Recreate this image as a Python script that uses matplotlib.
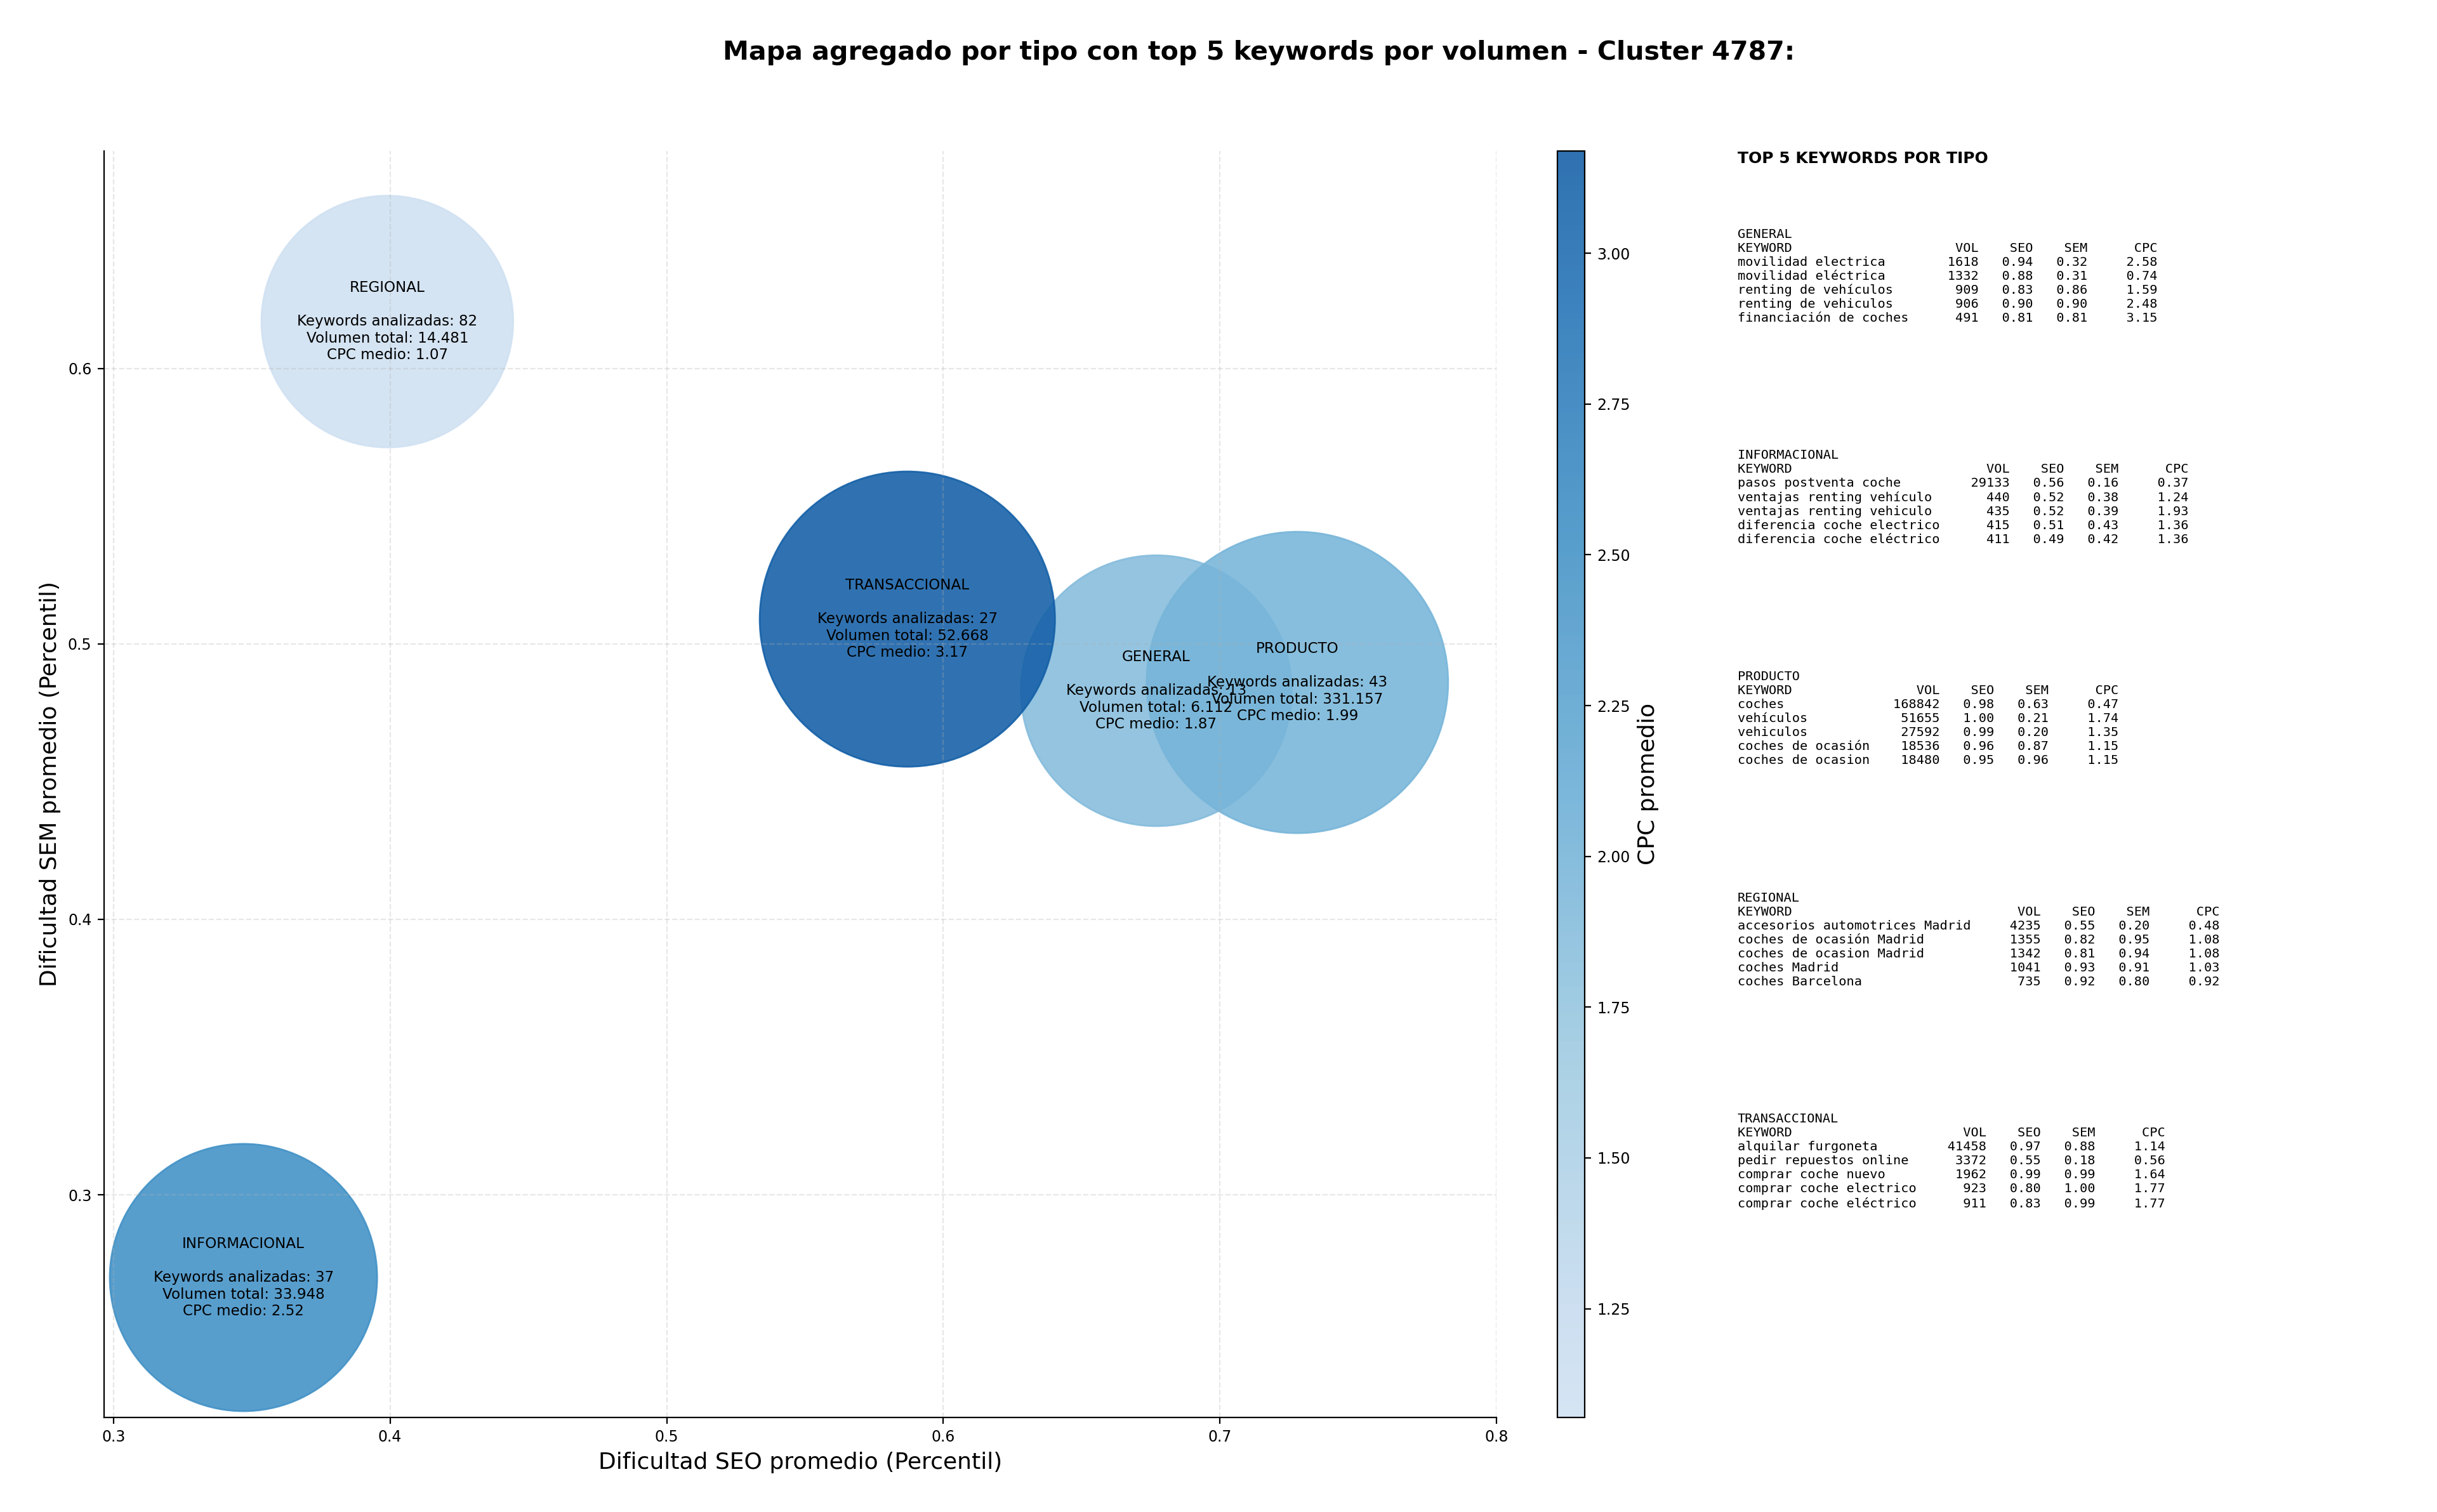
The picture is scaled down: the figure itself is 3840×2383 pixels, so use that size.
import numpy as np
import matplotlib
matplotlib.use("Agg")
import matplotlib.pyplot as plt
from matplotlib.colors import LinearSegmentedColormap

# datos agregados por tipo
tipos = ['GENERAL', 'INFORMACIONAL', 'PRODUCTO', 'REGIONAL', 'TRANSACCIONAL']
seo_medio = [0.677, 0.347, 0.728, 0.399, 0.587]
sem_medio = [0.483, 0.270, 0.486, 0.617, 0.509]
n_keywords = [13, 37, 43, 82, 27]
vol_total = [6112, 33948, 331157, 14481, 52668]
cpc_medio = [1.87, 2.52, 1.99, 1.07, 3.17]
# area de burbuja (puntos^2)
bubble_size = [23600, 22990, 29240, 20390, 28050]

# top 5 keywords por tipo: (keyword, vol, seo, sem, cpc)
top_general = [
    ('movilidad electrica', 1618, 0.94, 0.32, 2.58),
    ('movilidad eléctrica', 1332, 0.88, 0.31, 0.74),
    ('renting de vehículos', 909, 0.83, 0.86, 1.59),
    ('renting de vehiculos', 906, 0.90, 0.90, 2.48),
    ('financiación de coches', 491, 0.81, 0.81, 3.15),
]
top_informacional = [
    ('pasos postventa coche', 29133, 0.56, 0.16, 0.37),
    ('ventajas renting vehículo', 440, 0.52, 0.38, 1.24),
    ('ventajas renting vehiculo', 435, 0.52, 0.39, 1.93),
    ('diferencia coche electrico', 415, 0.51, 0.43, 1.36),
    ('diferencia coche eléctrico', 411, 0.49, 0.42, 1.36),
]
top_producto = [
    ('coches', 168842, 0.98, 0.63, 0.47),
    ('vehículos', 51655, 1.00, 0.21, 1.74),
    ('vehiculos', 27592, 0.99, 0.20, 1.35),
    ('coches de ocasión', 18536, 0.96, 0.87, 1.15),
    ('coches de ocasion', 18480, 0.95, 0.96, 1.15),
]
top_regional = [
    ('accesorios automotrices Madrid', 4235, 0.55, 0.20, 0.48),
    ('coches de ocasión Madrid', 1355, 0.82, 0.95, 1.08),
    ('coches de ocasion Madrid', 1342, 0.81, 0.94, 1.08),
    ('coches Madrid', 1041, 0.93, 0.91, 1.03),
    ('coches Barcelona', 735, 0.92, 0.80, 0.92),
]
top_transaccional = [
    ('alquilar furgoneta', 41458, 0.97, 0.88, 1.14),
    ('pedir repuestos online', 3372, 0.55, 0.18, 0.56),
    ('comprar coche nuevo', 1962, 0.99, 0.99, 1.64),
    ('comprar coche electrico', 923, 0.80, 1.00, 1.77),
    ('comprar coche eléctrico', 911, 0.83, 0.99, 1.77),
]
tops = [top_general, top_informacional, top_producto, top_regional, top_transaccional]


def fmt_vol(v):
    return f"{v:,}".replace(',', '.')


def tabla(nombre, filas):
    w = max(len(f[0]) for f in filas)
    lines = [nombre]
    lines.append('KEYWORD'.ljust(w) + 'VOL'.rjust(9) + 'SEO'.rjust(7) + 'SEM'.rjust(7) + 'CPC'.rjust(9))
    for kw, vol, seo, sem, cpc in filas:
        lines.append(kw.ljust(w) + f"{vol:>9}" + f"{seo:>7.2f}" + f"{sem:>7.2f}" + f"{cpc:>9.2f}")
    return '\n'.join(lines)


cmap = LinearSegmentedColormap.from_list('blues_trunc', plt.cm.Blues(np.linspace(0.2, 0.82, 256)))

fig = plt.figure(figsize=(19.2, 11.915), dpi=200)
ax = fig.add_axes([0.0427, 0.0627, 0.5714, 0.8376])
cax = fig.add_axes([0.639, 0.0627, 0.0112, 0.8376])

sc = ax.scatter(seo_medio, sem_medio, s=bubble_size, c=cpc_medio, cmap=cmap, alpha=0.88)

for i, t in enumerate(tipos):
    txt = f"{t}\n\nKeywords analizadas: {n_keywords[i]}\nVolumen total: {fmt_vol(vol_total[i])}\nCPC medio: {cpc_medio[i]:.2f}"
    ax.text(seo_medio[i], sem_medio[i], txt, ha='center', va='center', fontsize=8.3)

ax.set_xlim(0.2966, 0.8)
ax.set_ylim(0.2193, 0.679)
ax.set_xlabel('Dificultad SEO promedio (Percentil)', fontsize=13)
ax.set_ylabel('Dificultad SEM promedio (Percentil)', fontsize=13)
ax.tick_params(labelsize=8.5)
ax.grid(True, linestyle='--', alpha=0.3)
ax.spines['top'].set_visible(False)
ax.spines['right'].set_visible(False)

cb = fig.colorbar(sc, cax=cax)
cb.set_label('CPC promedio', fontsize=13)
cb.ax.tick_params(labelsize=8.5)

fig.text(0.5165, 0.965, 'Mapa agregado por tipo con top 5 keywords por volumen - Cluster 4787:',
         fontsize=14.8, fontweight='bold', ha='center', va='center')

# panel de texto
fig.text(0.713, 0.900, 'TOP 5 KEYWORDS POR TIPO', fontsize=9, fontweight='bold', va='top', ha='left')
y0 = 0.849
for i, t in enumerate(tipos):
    fig.text(0.713, y0 - i * 0.1463, tabla(t, tops[i]), fontsize=7.3, family='monospace',
             va='top', ha='left')

fig.savefig('out.png', dpi=200)
